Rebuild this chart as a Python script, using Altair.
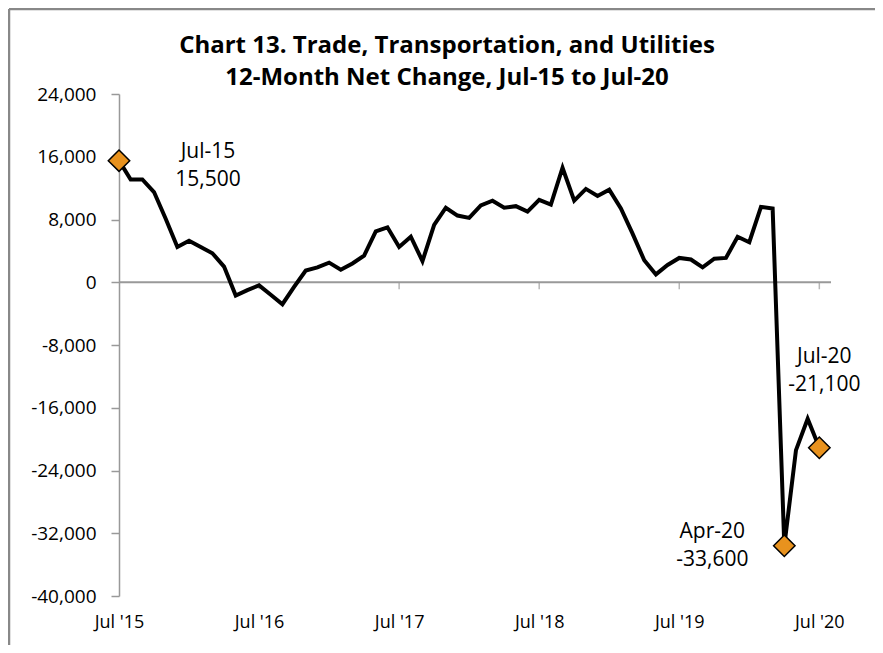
import json
import altair as alt
import pandas as pd

# ---- data ----
months = [d.strftime("%b-%y") for d in pd.date_range("2015-07-01", periods=61, freq="MS")]
values = [
    15500, 13100, 13100, 11500, 8100, 4500, 5300, 4500, 3700, 2000,
    -1700, -1000, -400, -1600, -2800, -600, 1500, 1900, 2500, 1600,
    2400, 3400, 6500, 7000, 4500, 5800, 2700, 7300, 9500, 8500,
    8200, 9800, 10400, 9500, 9700, 9000, 10500, 9900, 14600, 10400,
    11900, 11000, 11800, 9400, 6200, 2800, 1000, 2200, 3100, 2900,
    1900, 3000, 3100, 5800, 5100, 9600, 9400, -33600, -21400, -17400,
    -21100,
]
tick_positions = [0, 12, 24, 36, 48, 60]
tick_labels = ["Jul '15", "Jul '16", "Jul '17", "Jul '18", "Jul '19", "Jul '20"]
y_ticks = [-40000, -32000, -24000, -16000, -8000, 0, 8000, 16000, 24000]
marked = ["Jul-15", "Apr-20", "Jul-20"]
title_lines = ["Chart 13. Trade, Transportation, and Utilities",
               "12-Month Net Change, Jul-15 to Jul-20"]

FONT = "Open Sans"
GRAY = "#999999"

df = pd.DataFrame({"idx": list(range(len(values))), "month": months, "value": values})
mk = df[df["month"].isin(marked)].copy()
mk["label"] = mk["month"] + "\n" + mk["value"].map(lambda v: f"{v:,}")

xscale = alt.Scale(domain=[0, 61], nice=False, zero=False)
yscale = alt.Scale(domain=[-40000, 24000], nice=False, zero=False)

x_axis = alt.Axis(values=tick_positions, labelExpr=f"{json.dumps(tick_labels)}[round(datum.value/12)]",
                  domain=False, ticks=False, tickSize=0, grid=False, labelFontSize=18,
                  labelFont=FONT, labelColor="black", labelPadding=17, labelFlush=False)
y_axis = alt.Axis(values=y_ticks, labelExpr="replace(format(datum.value, ',.0f'), '\u2212', '-')",
                  grid=False, domainColor=GRAY, domainWidth=1.5,
                  tickColor=GRAY, tickWidth=1.5, tickSize=8, labelFontSize=19, labelFont=FONT,
                  labelColor="black", labelPadding=15, labelFlush=False)


def X():
    return alt.X("idx:Q", scale=xscale, title=None, axis=x_axis)


def Y():
    return alt.Y("value:Q", scale=yscale, title=None, axis=y_axis)


zero = alt.Chart(pd.DataFrame({"value": [0]})).mark_rule(color=GRAY, strokeWidth=2).encode(y=Y())

xt = alt.Chart(pd.DataFrame({"idx": tick_positions[1:], "value": [0] * 5})).mark_tick(
    orient="vertical", size=7, thickness=1.5, color=GRAY, yOffset=3.5).encode(x=X(), y=Y())

line = alt.Chart(df).mark_line(color="black", strokeWidth=4).encode(x=X(), y=Y())

pts = alt.Chart(mk).mark_point(shape="diamond", filled=True, fill="#E8921E", stroke="black",
                               strokeWidth=1.5, size=460, opacity=1).encode(x=X(), y=Y())


def ann(month, dx, dy):
    return alt.Chart(mk[mk["month"] == month]).mark_text(
        font=FONT, fontSize=21, color="black", lineBreak="\n", lineHeight=28,
        align="center", baseline="middle", dx=dx, dy=dy).encode(x=X(), y=Y(), text="label:N")


title = alt.Chart(pd.DataFrame({"t": ["\n".join(title_lines)]})).mark_text(
    font=FONT, fontSize=24, fontWeight="bold", color="black", lineBreak="\n", lineHeight=32,
    align="center", baseline="middle", clip=False).encode(
    x=alt.value(328), y=alt.value(-48), text="t:N")

border_v = alt.Chart(pd.DataFrame({"a": [0]})).mark_rule(color="#888888", strokeWidth=2.5, clip=False).encode(
    x=alt.value(-110), y=alt.value(-85), y2=alt.value(560))
border_h = alt.Chart(pd.DataFrame({"a": [0]})).mark_rule(color="#888888", strokeWidth=2.5, clip=False).encode(
    x=alt.value(-110), x2=alt.value(770), y=alt.value(-85))

chart = alt.layer(
    zero, xt, ann("Jul-15", 89, -9), ann("Apr-20", -72, -14), ann("Jul-20", 5, -91),
    line, pts, title, border_v, border_h,
).properties(
    width=712, height=502,
    autosize=alt.AutoSizeParams(type="none"),
    padding={"left": 111, "top": 86, "right": 44, "bottom": 49},
).configure_view(stroke=None)

chart.save("out.html", embed_options={"renderer": "svg", "actions": False})
